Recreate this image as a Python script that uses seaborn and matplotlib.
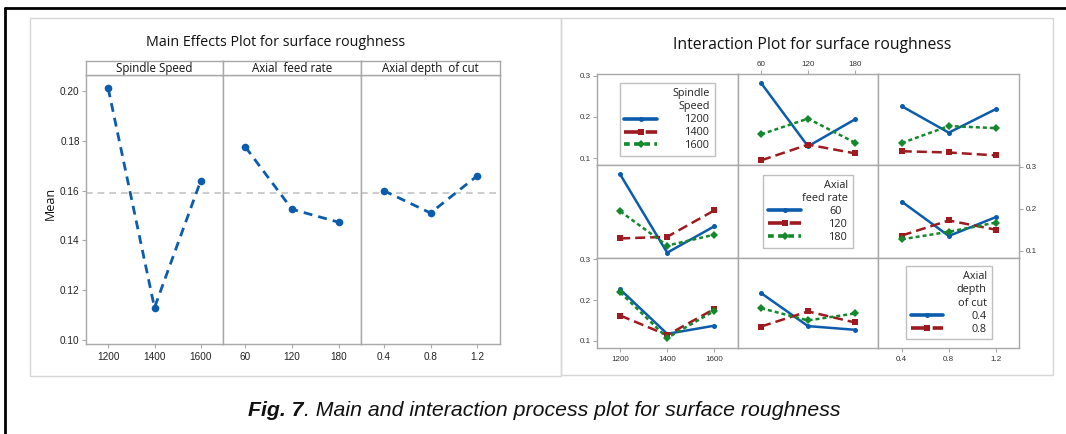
import numpy as np
import matplotlib
matplotlib.use("Agg")
import matplotlib.pyplot as plt
import seaborn as sns
from matplotlib.lines import Line2D
from matplotlib.patches import Rectangle

sns.set_theme(style="white")
plt.rcParams['font.family'] = ['Open Sans', 'DejaVu Sans']

# ---------------- data ----------------
factor_names = ["Spindle Speed", "Axial  feed rate", "Axial depth  of cut"]
speed_levels = ["1200", "1400", "1600"]
feed_levels = ["60", "120", "180"]
depth_levels = ["0.4", "0.8", "1.2"]

main_speed = [0.201, 0.113, 0.164]
main_feed = [0.1775, 0.1525, 0.1473]
main_depth = [0.160, 0.151, 0.166]
grand_mean = 0.159
main_yticks = [0.10, 0.12, 0.14, 0.16, 0.18, 0.20]

# interaction means (rows: first factor level, cols: second factor level)
speed_x_feed = [[0.282, 0.129, 0.194],
                [0.095, 0.133, 0.112],
                [0.158, 0.196, 0.138]]
speed_x_depth = [[0.226, 0.162, 0.219],
                 [0.117, 0.114, 0.107],
                 [0.137, 0.178, 0.173]]
feed_x_depth = [[0.217, 0.135, 0.180],
                [0.136, 0.172, 0.150],
                [0.127, 0.145, 0.167]]
inter_yticks = [0.1, 0.2, 0.3]
legend_titles = ["Spindle\nSpeed", "Axial\nfeed rate", "Axial\ndepth\nof cut"]

# ---------------- style ----------------
W, H = 1066, 434
BLUE, RED, GREEN = "#0b5cad", "#9e1a1f", "#14882c"
GRAY = "#a8a8a8"
NARROW = ['Liberation Sans Narrow', 'Liberation Sans', 'DejaVu Sans']

fig = plt.figure(figsize=(W / 100, H / 100), dpi=100)
fig.patch.set_facecolor("white")


def add_ax(x0, y0, x1, y1):
    return fig.add_axes([x0 / W, 1 - y1 / H, (x1 - x0) / W, (y1 - y0) / H])


def style_spines(ax):
    for s in ax.spines.values():
        s.set_color(GRAY)
        s.set_linewidth(1.0)
        s.set_visible(True)
    ax.set_facecolor("white")


# outer frame and panel borders
fig.add_artist(Line2D([5 / W, 1.0], [1 - 8 / H] * 2, transform=fig.transFigure, color="black", lw=2))
fig.add_artist(Line2D([5 / W] * 2, [1 - 8 / H, 0.0], transform=fig.transFigure, color="black", lw=2))
for (x0, y0, x1, y1) in [(30, 18, 561, 376), (561, 18, 1053, 375)]:
    fig.add_artist(Rectangle((x0 / W, 1 - y1 / H), (x1 - x0) / W, (y1 - y0) / H,
                             transform=fig.transFigure, fill=False, edgecolor="#d6d6d6", lw=1.0))

# ---------------- main effects ----------------
fig.text(276 / W, 1 - 42 / H, "Main Effects Plot for surface roughness", ha="center", va="center",
         fontsize=10.3, color="#111111")
fig.text(50 / W, 1 - 203 / H, "Mean", rotation=90, ha="center", va="center", fontsize=9, color="#111111")

cols_x = [86, 223, 361, 500]
main_vals = [main_speed, main_feed, main_depth]
main_levels = [speed_levels, feed_levels, depth_levels]
for k in range(3):
    ax = add_ax(cols_x[k], 75, cols_x[k + 1], 344)
    style_spines(ax)
    sns.lineplot(x=np.arange(3), y=main_vals[k], ax=ax, color=BLUE, linewidth=2.0,
                 linestyle=(0, (3.2, 2.2)), marker="o", markersize=5.5, markeredgewidth=0)
    ax.axhline(grand_mean, color="#c4c4c4", lw=1.2, ls=(0, (4, 3)), zorder=0)
    ax.set_xlim(-0.48, 2.48)
    ax.set_ylim(0.0984, 0.2064)
    ax.set_xticks(range(3))
    ax.set_xticklabels(main_levels[k], fontsize=7.2, family=NARROW, color="#222222")
    ax.set_yticks(main_yticks)
    if k == 0:
        ax.set_yticklabels([f"{v:.2f}" for v in main_yticks], fontsize=7.2, family=NARROW, color="#222222")
        ax.tick_params(axis="y", left=True, length=3, width=0.8, color=GRAY, pad=1.5)
    else:
        ax.tick_params(axis="y", left=False, labelleft=False)
    ax.tick_params(axis="x", bottom=True, length=3, width=0.8, color=GRAY, pad=2.5)
    ax.set_xlabel("")
    ax.set_ylabel("")
    # strip
    sax = add_ax(cols_x[k], 61, cols_x[k + 1], 75)
    style_spines(sax)
    sax.set_xticks([])
    sax.set_yticks([])
    sax.text(0.5, 0.45, factor_names[k], ha="center", va="center", fontsize=8.3,
             transform=sax.transAxes, color="#111111")

# ---------------- interaction plot ----------------
fig.text(812 / W, 1 - 45 / H, "Interaction Plot for surface roughness", ha="center", va="center",
         fontsize=11.3, color="#111111")

grid_x = [596.7, 737.7, 878.3, 1019.3]
grid_y = [74, 165.3, 257.7, 347.7]
series_styles = [
    dict(color=BLUE, linestyle="-", marker="o", markersize=3.6),
    dict(color=RED, linestyle=(0, (4, 2)), marker="s", markersize=4.2),
    dict(color=GREEN, linestyle=(0, (1.6, 1.2)), marker="D", markersize=3.6),
]
tables = {
    (0, 1): np.array(speed_x_feed),
    (0, 2): np.array(speed_x_depth),
    (1, 0): np.array(speed_x_feed).T,
    (1, 2): np.array(feed_x_depth),
    (2, 0): np.array(speed_x_depth).T,
    (2, 1): np.array(feed_x_depth).T,
}
all_levels = [speed_levels, feed_levels, depth_levels]
TICKFS = 5.8

for i in range(3):
    for j in range(3):
        ax = add_ax(grid_x[j], grid_y[i], grid_x[j + 1], grid_y[i + 1])
        style_spines(ax)
        ax.set_xlim(-0.5, 2.5)
        ax.set_ylim(0.083, 0.304)
        ax.set_xticks([])
        ax.set_yticks([])
        if (i, j) in tables:
            tab = tables[(i, j)]
            for s in range(3):
                sns.lineplot(x=np.arange(3), y=tab[s], ax=ax, linewidth=1.8,
                             markeredgewidth=0, **series_styles[s])
        else:
            handles = [Line2D([], [], linewidth=2.6, markeredgewidth=0, **series_styles[s])
                       for s in range(3)]
            labels = list(all_levels[i])
            n = 2 if i == 2 else 3
            leg = ax.legend(handles[:n], labels[:n], title=legend_titles[i], loc="center",
                            fontsize=7.8, title_fontsize=7.8, frameon=True, fancybox=False,
                            edgecolor="#b0b0b0", handlelength=3.0, handletextpad=2.6,
                            borderpad=0.45, borderaxespad=0.2, labelspacing=0.18,
                            alignment="right")
            leg.get_frame().set_linewidth(1.0)
            leg.get_title().set_multialignment("right")
            leg.get_title().set_linespacing(1.3)
            leg.get_title().set_color("#222222")
            for t in leg.get_texts():
                t.set_color("#222222")
        ax.set_xlabel("")
        ax.set_ylabel("")
        # tick axes
        if j == 0 and i in (0, 2):
            ax.set_yticks(inter_yticks)
            ax.set_yticklabels(["0.1", "0.2", "0.3"], fontsize=TICKFS, family=NARROW, color="#333333")
            ax.tick_params(axis="y", left=True, length=3, width=0.8, color=GRAY, pad=1)
        if j == 2 and i == 1:
            ax.yaxis.tick_right()
            ax.set_yticks(inter_yticks)
            ax.set_yticklabels(["0.1", "0.2", "0.3"], fontsize=TICKFS, family=NARROW, color="#333333")
            ax.tick_params(axis="y", right=True, left=False, length=3, width=0.8, color=GRAY, pad=2)
        if i == 0 and j == 1:
            ax.xaxis.tick_top()
            ax.set_xticks(range(3))
            ax.set_xticklabels(feed_levels, fontsize=TICKFS, family=NARROW, color="#333333")
            ax.tick_params(axis="x", top=True, bottom=False, length=3, width=0.8, color=GRAY, pad=1)
        if i == 2 and j in (0, 2):
            ax.set_xticks(range(3))
            ax.set_xticklabels(all_levels[j], fontsize=TICKFS, family=NARROW, color="#333333")
            ax.tick_params(axis="x", bottom=True, length=3, width=0.8, color=GRAY, pad=3)

# ---------------- caption ----------------
cap_y = 1 - 410 / H
t1 = fig.text(248 / W, cap_y, "Fig. 7", ha="left", va="center", fontsize=15.3,
              family=['Liberation Sans', 'DejaVu Sans'], style="italic", weight="bold", color="#111111")
fig.canvas.draw()
bb = t1.get_window_extent(renderer=fig.canvas.get_renderer())
fig.text(bb.x1 / W, cap_y, ". Main and interaction process plot for surface roughness", ha="left", va="center",
         fontsize=15.3, family=['Liberation Sans', 'DejaVu Sans'], style="italic", color="#111111")

fig.savefig("out.png", dpi=100, facecolor="white")
